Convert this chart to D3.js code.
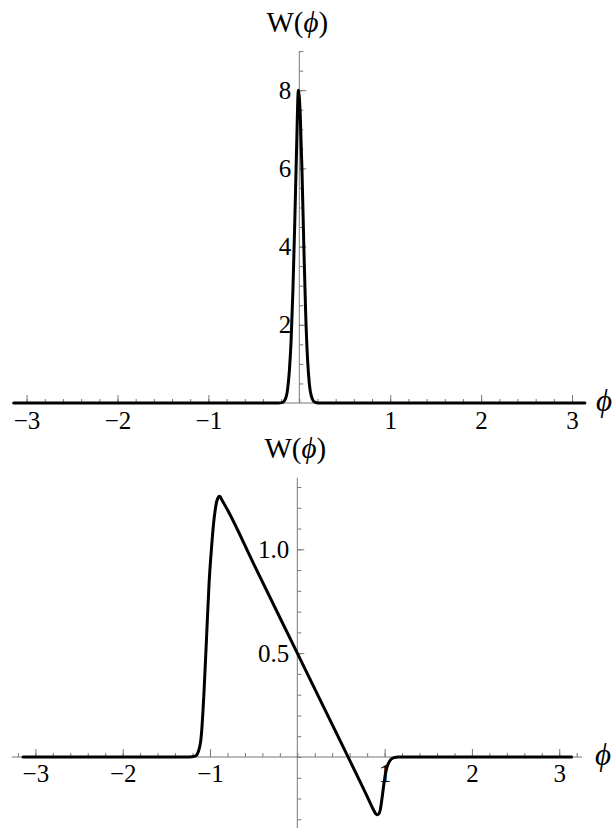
<!DOCTYPE html>
<html>
<head>
<meta charset="utf-8">
<script src="https://cdn.jsdelivr.net/npm/d3@7"></script>
<style>
  body { margin: 0; background: #fff; }
  .axis path, .axis line { stroke: #777; stroke-width: 1; }
  .curve { fill: none; stroke: #000; stroke-width: 3; stroke-linejoin: round; stroke-linecap: round; }
</style>
</head>
<body>
<svg id="chart" width="616" height="831"></svg>
<script>
const PI = Math.PI;
const SERIF = '"Liberation Serif", "Times New Roman", "DejaVu Serif", serif';

// top panel: narrow bump near phi = 0
const topPhi = [-PI, -0.23, -0.19, -0.16, -0.13, -0.11, -0.09, -0.07, -0.05, -0.03, -0.01, 0.01, 0.03, 0.05, 0.07, 0.09, 0.11, 0.14, 0.17, 0.21, PI];
const topW   = [0, 0, 0.01, 0.07, 0.33, 0.8, 1.6, 2.9, 4.6, 6.5, 8.0, 7.4, 5.9, 4.0, 2.3, 1.15, 0.5, 0.12, 0.02, 0, 0];

// bottom panel: window with a falling straight part inside
const botPhi = [-PI, -1.24, -1.17, -1.13, -1.10, -1.07, -1.04, -1.01, -0.98, -0.96, -0.94, -0.92, -0.89, -0.86, -0.8, -0.5, 0, 0.5, 0.8, 0.85, 0.88, 0.91, 0.93, 0.95, 0.97, 0.99, 1.01, 1.03, 1.06, 1.1, 1.16, PI];
const botW   = [0, 0, 0.004, 0.03, 0.1, 0.3, 0.57, 0.84, 1.02, 1.12, 1.19, 1.235, 1.255, 1.235, 1.19, 0.93, 0.5, 0.07, -0.19, -0.235, -0.26, -0.278, -0.275, -0.255, -0.2, -0.135, -0.08, -0.045, -0.018, -0.004, 0, 0];

// tick labels
const xMajor = [-3, -2, -1, 1, 2, 3];
const topYMajor = [2, 4, 6, 8];
const botYMajor = [0.5, 1.0];

const svg = d3.select('#chart');

function minus(v, digits) {
  const s = digits ? Math.abs(v).toFixed(digits) : String(Math.abs(v));
  return v < 0 ? '\u2212' + s : s;
}

function styleLabels(sel) {
  sel.selectAll('text')
    .style('font-family', SERIF)
    .style('font-size', '25px')
    .attr('fill', '#000');
}

function drawPanel(opt) {
  const g = svg.append('g');
  const x = d3.scaleLinear().domain([-PI, PI]).range(opt.xRange);
  const y = d3.scaleLinear().domain(opt.yDom).range(opt.yRange);

  // x axis (thin gray line, ticks pointing up)
  const xa = g.append('g').attr('class', 'axis').attr('transform', `translate(0,${y(0)})`);
  xa.append('line')
    .attr('x1', x(opt.xAxisExt[0])).attr('x2', x(opt.xAxisExt[1]))
    .attr('y1', 0).attr('y2', 0);
  xa.append('g')
    .call(d3.axisBottom(x).tickValues(opt.xMinor).tickSizeInner(-4).tickSizeOuter(0).tickFormat(''));
  xa.append('g')
    .call(d3.axisBottom(x).tickValues(xMajor).tickSizeInner(-8).tickSizeOuter(0)
      .tickPadding(opt.xPad).tickFormat(d => minus(d)))
    .call(styleLabels);
  xa.selectAll('.domain').remove();

  // y axis (ticks pointing right)
  const ya = g.append('g').attr('class', 'axis').attr('transform', `translate(${x(0)},0)`);
  ya.append('line')
    .attr('x1', 0).attr('x2', 0)
    .attr('y1', y(opt.yAxisExt[0])).attr('y2', y(opt.yAxisExt[1]));
  ya.append('g')
    .call(d3.axisLeft(y).tickValues(opt.yMinor).tickSizeInner(-4).tickSizeOuter(0).tickFormat(''));
  ya.append('g')
    .call(d3.axisLeft(y).tickValues(opt.yMajor).tickSizeInner(-7).tickSizeOuter(0)
      .tickPadding(8).tickFormat(d => minus(d, opt.yDigits)))
    .call(styleLabels);
  ya.selectAll('.domain').remove();

  // curve
  const pts = opt.phi.map((p, i) => [p, opt.w[i]]);
  g.append('path')
    .datum(pts)
    .attr('class', 'curve')
    .attr('d', d3.line().x(d => x(d[0])).y(d => y(d[1])).curve(d3.curveMonotoneX));

  // axis labels
  const wl = g.append('text')
    .attr('x', x(0) - 2).attr('y', opt.wLabelY)
    .attr('text-anchor', 'middle')
    .style('font-family', SERIF).style('font-size', '29px');
  wl.append('tspan').text('W(');
  wl.append('tspan').style('font-style', 'italic').text('\u03D5');
  wl.append('tspan').text(')');

  g.append('text')
    .attr('x', opt.phiLabelX).attr('y', opt.phiLabelY)
    .attr('text-anchor', 'middle')
    .style('font-family', SERIF).style('font-size', '31px').style('font-style', 'italic')
    .text('\u03D5');
}

drawPanel({
  phi: topPhi, w: topW,
  xRange: [13.7, 584.9],
  yDom: [0, 9], yRange: [403, 51.1],
  xAxisExt: [-PI, PI], yAxisExt: [0, 9],
  xMinor: d3.range(-3, 3.01, 0.2),
  yMinor: d3.range(0.5, 9.01, 0.5),
  yMajor: topYMajor, yDigits: 0,
  xPad: 8,
  wLabelY: 32,
  phiLabelX: 604, phiLabelY: 411
});

drawPanel({
  phi: botPhi, w: botW,
  xRange: [23, 571.6],
  yDom: [0, 1], yRange: [757, 549.3],
  xAxisExt: [-3.27, 3.26], yAxisExt: [-0.342, 1.345],
  xMinor: d3.range(-3.2, 3.21, 0.2),
  yMinor: d3.range(-0.3, 1.31, 0.1),
  yMajor: botYMajor, yDigits: 1,
  xPad: 7,
  wLabelY: 458,
  phiLabelX: 603, phiLabelY: 765
});
</script>
</body>
</html>
